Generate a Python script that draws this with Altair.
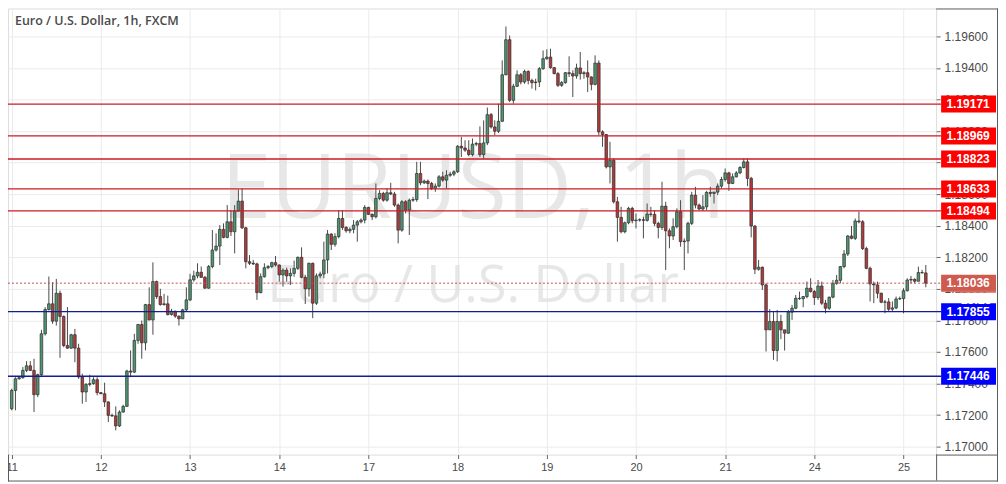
import altair as alt
import pandas as pd

first_open = 1.17240
closes = [
    1.17356, 1.17430, 1.17437, 1.17483, 1.17512, 1.17483, 1.17329, 1.17456, 1.17715, 1.17869,
    1.17905, 1.17795, 1.17972, 1.17825, 1.17641, 1.17624, 1.17709, 1.17624, 1.17441, 1.17346,
    1.17394, 1.17399, 1.17424, 1.17342, 1.17335, 1.17283, 1.17198, 1.17195, 1.17131, 1.17219,
    1.17255, 1.17479, 1.17472, 1.17673, 1.17774, 1.17658, 1.17900, 1.17803, 1.18046, 1.17951,
    1.17900, 1.17905, 1.17837, 1.17858, 1.17827, 1.17810, 1.17867, 1.17930, 1.18057,
    1.18082, 1.18105, 1.18073, 1.18004, 1.18141, 1.18246, 1.18271, 1.18377, 1.18326, 1.18425,
    1.18362, 1.18493, 1.18556, 1.18387, 1.18172, 1.18162, 1.18158, 1.17976, 1.18077, 1.18134,
    1.18141, 1.18166, 1.18151, 1.18088, 1.18119, 1.18082, 1.18098, 1.18130, 1.18200, 1.18073,
    1.18000, 1.18162, 1.17909, 1.18082, 1.18094, 1.18183, 1.18347, 1.18282, 1.18331, 1.18446,
    1.18389, 1.18368, 1.18377, 1.18404, 1.18425, 1.18436, 1.18516, 1.18472, 1.18457, 1.18573,
    1.18605,
    1.18562, 1.18609, 1.18601, 1.18531, 1.18372, 1.18552, 1.18499, 1.18562, 1.18566, 1.18731,
    1.18672, 1.18683, 1.18668, 1.18636, 1.18651, 1.18710, 1.18689, 1.18720, 1.18727, 1.18742,
    1.18904, 1.18893, 1.18879, 1.18851, 1.18917, 1.18921, 1.18851, 1.18925, 1.19104, 1.19026,
    1.18999, 1.19062, 1.19357, 1.19579, 1.19195, 1.19284, 1.19357, 1.19311, 1.19378, 1.19321,
    1.19307, 1.19311, 1.19395, 1.19459, 1.19469, 1.19402, 1.19364, 1.19290,
    1.19307, 1.19370, 1.19364, 1.19349, 1.19400, 1.19364, 1.19370, 1.19343, 1.19296, 1.19431,
    1.18995, 1.18978, 1.18773, 1.18815, 1.18552, 1.18453, 1.18362, 1.18419, 1.18510, 1.18432,
    1.18436, 1.18438, 1.18434, 1.18474, 1.18472, 1.18415, 1.18389, 1.18524, 1.18368, 1.18335,
    1.18394, 1.18489, 1.18299, 1.18303, 1.18415, 1.18594, 1.18531, 1.18506, 1.18520, 1.18611,
    1.18605, 1.18613, 1.18651, 1.18693, 1.18735, 1.18668, 1.18710, 1.18735, 1.18769, 1.18805,
    1.18700, 1.18398, 1.18124, 1.18137, 1.18025, 1.17740, 1.17793, 1.17609, 1.17793, 1.17740,
    1.17719, 1.17852, 1.17877, 1.17940, 1.17938, 1.17951, 1.18004, 1.17983, 1.17945, 1.18018,
    1.17909, 1.17877, 1.17947, 1.18035, 1.18054, 1.18141, 1.18221, 1.18335, 1.18320, 1.18430,
    1.18425, 1.18255, 1.18130, 1.18031, 1.18025, 1.17972, 1.17915, 1.17917, 1.17871, 1.17879,
    1.17936, 1.17938, 1.17988, 1.18056, 1.18060, 1.18048, 1.18103, 1.18101, 1.18036,
]
highs = [
    1.17367, 1.17440, 1.17445, 1.17504, 1.17542, 1.17542, 1.17557, 1.17462, 1.17740, 1.17884,
    1.18078, 1.18042, 1.18063, 1.17989, 1.17831, 1.17884, 1.17715, 1.17746, 1.17652, 1.17462,
    1.17403, 1.17456, 1.17440, 1.17440, 1.17346, 1.17405, 1.17287, 1.17209, 1.17255, 1.17230,
    1.17265, 1.17487, 1.17610, 1.17715, 1.17778, 1.17799, 1.17905, 1.18010, 1.18168, 1.18052,
    1.18000, 1.17968, 1.17957, 1.17873, 1.17862, 1.17831, 1.17873, 1.18010, 1.18095,
    1.18115, 1.18162, 1.18141, 1.18082, 1.18151, 1.18373, 1.18352, 1.18404, 1.18415, 1.18531,
    1.18499, 1.18531, 1.18630, 1.18636, 1.18394, 1.18214, 1.18183, 1.18166, 1.18098, 1.18162,
    1.18151, 1.18172, 1.18208, 1.18155, 1.18130, 1.18134, 1.18130, 1.18179, 1.18204, 1.18263,
    1.18088, 1.18166, 1.18166, 1.18098, 1.18109, 1.18299, 1.18373, 1.18352, 1.18352, 1.18499,
    1.18499, 1.18398, 1.18390, 1.18436, 1.18436, 1.18446, 1.18531, 1.18520, 1.18478, 1.18668,
    1.18626,
    1.18615, 1.18636, 1.18672, 1.18615, 1.18541, 1.18562, 1.18562, 1.18573, 1.18583, 1.18805,
    1.18805, 1.18693, 1.18693, 1.18678, 1.18668, 1.18721, 1.18742, 1.18752, 1.18742, 1.18752,
    1.18911, 1.18963, 1.18942, 1.18942, 1.18953, 1.18932, 1.19030, 1.19068, 1.19149, 1.19115,
    1.19068, 1.19174, 1.19448, 1.19663, 1.19606, 1.19300, 1.19385, 1.19368, 1.19389, 1.19385,
    1.19332, 1.19332, 1.19406, 1.19511, 1.19518, 1.19522, 1.19406, 1.19374,
    1.19317, 1.19374, 1.19474, 1.19385, 1.19427, 1.19501, 1.19380, 1.19448, 1.19347, 1.19480,
    1.19448, 1.19005, 1.18981, 1.18932, 1.18826, 1.18583, 1.18520, 1.18426, 1.18520, 1.18520,
    1.18478, 1.18447, 1.18457, 1.18541, 1.18520, 1.18499, 1.18426, 1.18679, 1.18552, 1.18383,
    1.18447, 1.18510, 1.18562, 1.18320, 1.18426, 1.18615, 1.18647, 1.18541, 1.18594, 1.18621,
    1.18647, 1.18615, 1.18668, 1.18710, 1.18763, 1.18742, 1.18731, 1.18746, 1.18778, 1.18826,
    1.18826, 1.18710, 1.18404, 1.18183, 1.18141, 1.18035, 1.17871, 1.17856, 1.17866, 1.17835,
    1.17740, 1.17866, 1.17898, 1.17961, 1.17982, 1.17955, 1.18046, 1.18067, 1.17993, 1.18056,
    1.18046, 1.17930, 1.17951, 1.18056, 1.18088, 1.18145, 1.18246, 1.18341, 1.18398, 1.18446,
    1.18489, 1.18436, 1.18267, 1.18141, 1.18046, 1.18046, 1.17976, 1.17930, 1.17941, 1.17920,
    1.17951, 1.17951, 1.18004, 1.18067, 1.18082, 1.18067, 1.18141, 1.18120, 1.18151,
]
lows = [
    1.17230, 1.17230, 1.17424, 1.17430, 1.17472, 1.17479, 1.17219, 1.17314, 1.17440, 1.17704,
    1.17862, 1.17778, 1.17767, 1.17563, 1.17630, 1.17620, 1.17620, 1.17535, 1.17430, 1.17272,
    1.17283, 1.17382, 1.17392, 1.17325, 1.17333, 1.17251, 1.17156, 1.17188, 1.17103, 1.17124,
    1.17215, 1.17251, 1.17440, 1.17466, 1.17652, 1.17557, 1.17610, 1.17799, 1.17709, 1.17936,
    1.17894, 1.17894, 1.17831, 1.17831, 1.17816, 1.17767, 1.17810, 1.17858, 1.17922,
    1.18046, 1.18067, 1.18069, 1.18001, 1.18001, 1.18130, 1.18236, 1.18151, 1.18320, 1.18320,
    1.18335, 1.18225, 1.18489, 1.18379, 1.18130, 1.18151, 1.18151, 1.17930, 1.17972, 1.18071,
    1.18124, 1.18130, 1.18141, 1.18046, 1.18014, 1.18046, 1.18025, 1.18077, 1.18119, 1.18067,
    1.17904, 1.17951, 1.17814, 1.17898, 1.18067, 1.18067, 1.18098, 1.18246, 1.18267, 1.18320,
    1.18373, 1.18356, 1.18352, 1.18352, 1.18299, 1.18415, 1.18415, 1.18468, 1.18436, 1.18446,
    1.18562,
    1.18552, 1.18552, 1.18594, 1.18520, 1.18288, 1.18362, 1.18478, 1.18341, 1.18552, 1.18552,
    1.18657, 1.18664, 1.18569, 1.18626, 1.18615, 1.18643, 1.18678, 1.18636, 1.18710, 1.18714,
    1.18735, 1.18836, 1.18868, 1.18840, 1.18840, 1.18904, 1.18836, 1.18826, 1.18911, 1.19016,
    1.18974, 1.18988, 1.19058, 1.19353, 1.19184, 1.19174, 1.19279, 1.19296, 1.19300, 1.19296,
    1.19269, 1.19258, 1.19279, 1.19389, 1.19452, 1.19395, 1.19360, 1.19279,
    1.19280, 1.19300, 1.19343, 1.19216, 1.19332, 1.19326, 1.19332, 1.19248, 1.19258, 1.19290,
    1.18974, 1.18900, 1.18763, 1.18668, 1.18541, 1.18299, 1.18352, 1.18352, 1.18409, 1.18415,
    1.18383, 1.18426, 1.18320, 1.18426, 1.18457, 1.18398, 1.18320, 1.18373, 1.18119, 1.18257,
    1.18309, 1.18383, 1.18267, 1.18119, 1.18225, 1.18404, 1.18510, 1.18499, 1.18495, 1.18499,
    1.18584, 1.18541, 1.18594, 1.18636, 1.18679, 1.18621, 1.18664, 1.18706, 1.18727, 1.18763,
    1.18651, 1.18326, 1.18094, 1.18115, 1.17993, 1.17603, 1.17740, 1.17550, 1.17540, 1.17681,
    1.17609, 1.17715, 1.17803, 1.17871, 1.17930, 1.17883, 1.17940, 1.17976, 1.17898, 1.17930,
    1.17898, 1.17845, 1.17866, 1.17940, 1.18025, 1.18035, 1.18130, 1.18208, 1.18314, 1.18309,
    1.18415, 1.18246, 1.18124, 1.17920, 1.17909, 1.17940, 1.17909, 1.17845, 1.17856, 1.17856,
    1.17871, 1.17930, 1.17845, 1.17983, 1.18035, 1.18035, 1.18052, 1.18098, 1.18010,
]

day_labels = ["11", "12", "13", "14", "17", "18", "19", "20", "21", "24", "25"]
hours_per_day = 24
price_ticks = [1.170, 1.172, 1.174, 1.176, 1.178, 1.180, 1.182, 1.184, 1.186, 1.188,
               1.190, 1.192, 1.194, 1.196]

red_levels = [1.19171, 1.18969, 1.18823, 1.18633, 1.18494]
blue_levels = [1.17855, 1.17446]
last_price = 1.18036
countdown = "13:25"
title_text = "Euro / U.S. Dollar, 1h, FXCM"
watermark_1 = "EURUSD, 1h"
watermark_2 = "Euro / U.S. Dollar"

opens = [first_open] + closes[:-1]
df = pd.DataFrame({
    "i": list(range(len(closes))),
    "open": opens,
    "close": closes,
    "high": [max(h, o, c) for h, o, c in zip(highs, opens, closes)],
    "low": [min(l, o, c) for l, o, c in zip(lows, opens, closes)],
})
df["dir"] = ["up" if c >= o else "down" for o, c in zip(opens, closes)]

tick_idx = [k * hours_per_day for k in range(len(day_labels))]
label_js = "[" + ",".join("'%s'" % d for d in day_labels) + "]"

W, H = 930, 447
xscale = alt.Scale(domain=[0.345, 247.43], nice=False, zero=False)
yscale = alt.Scale(domain=[1.169494, 1.197771], nice=False, zero=False)
xaxis = alt.Axis(values=tick_idx, labelExpr=label_js + "[round(datum.value/24)]",
                 grid=True, gridColor="#ebebeb", domain=False, tickColor="#666",
                 tickSize=4, labelPadding=3, labelFontSize=11, labelColor="#4a4a4a",
                 labelFont="Liberation Sans", labelFlush=False, labelOverlap=False,
                 title=None)
yaxis = alt.Axis(orient="right", values=price_ticks, format=".5f", grid=True,
                 gridColor="#ebebeb", domain=False, tickColor="#666", tickSize=4,
                 labelPadding=4, labelFontSize=12, labelColor="#4a4a4a",
                 labelFont="Liberation Sans", labelOverlap=False, title=None)


def X(f):
    return alt.X(f, scale=xscale, axis=xaxis, title=None)


def Y(f):
    return alt.Y(f, scale=yscale, axis=yaxis, title=None)


wm = pd.DataFrame({"t": [watermark_1, watermark_2], "y": [210, 294], "s": [90, 52]})
watermark = alt.Chart(wm).mark_text(font="Open Sans", color="#e2e2e2", align="center",
                                    baseline="alphabetic", opacity=0.8).encode(
    text="t:N", x=alt.value(466), y=alt.Y("y:Q", scale=None),
    size=alt.Size("s:Q", scale=None, legend=None))

wicks = alt.Chart(df).mark_rule(color="#4a4a4a", strokeWidth=1).encode(
    x=X("i:Q"), y=Y("low:Q"), y2="high:Q")
bodies = alt.Chart(df).mark_bar(size=2.6, stroke="#2d2d2d", strokeWidth=0.7).encode(
    x=X("i:Q"), y=Y("open:Q"), y2="close:Q",
    fill=alt.Fill("dir:N", scale=alt.Scale(domain=["up", "down"],
                                           range=["#4f9670", "#b13b3b"]), legend=None))

lv = pd.DataFrame({
    "price": red_levels + blue_levels,
    "kind": ["r"] * len(red_levels) + ["b"] * len(blue_levels),
})
lv["label"] = ["%.5f" % p for p in lv["price"]]
line_color = {"r": "#cc1a24", "b": "#12208f"}
box_color = {"r": "#ff0000", "b": "#0000ff"}
half = 0.00054

level_layers = []
for k in ["r", "b"]:
    sub = lv[lv["kind"] == k]
    level_layers.append(alt.Chart(sub).mark_rule(strokeWidth=1.3, color=line_color[k]).encode(
        y=Y("price:Q"), x=alt.value(0), x2=alt.value(935)))
for k in ["r", "b"]:
    sub = lv[lv["kind"] == k]
    level_layers.append(alt.Chart(sub).transform_calculate(
        top="datum.price + %f" % half, bot="datum.price - %f" % half
    ).mark_rect(color=box_color[k]).encode(
        y=Y("top:Q"), y2="bot:Q", x=alt.value(935), x2=alt.value(990)))
box_text = alt.Chart(lv).mark_text(color="white", fontWeight="bold", fontSize=12,
                                   font="Liberation Sans", align="center",
                                   baseline="middle").encode(
    y=Y("price:Q"), x=alt.value(962), text="label:N")

cur = pd.DataFrame({"price": [last_price], "label": ["%.5f" % last_price],
                    "cd": [countdown]})
cur_line = alt.Chart(cur).mark_rule(color="#c0504d", strokeWidth=1,
                                    strokeDash=[2, 2]).encode(
    y=Y("price:Q"), x=alt.value(0), x2=alt.value(935))
cur_box = alt.Chart(cur).transform_calculate(
    top="datum.price + %f" % half, bot="datum.price - %f" % half
).mark_rect(color="#cf5a4e").encode(
    y=Y("top:Q"), y2="bot:Q", x=alt.value(935), x2=alt.value(990))
cur_text = alt.Chart(cur).mark_text(color="white", fontWeight="bold", fontSize=12,
                                    font="Liberation Sans", align="center",
                                    baseline="middle").encode(
    y=Y("price:Q"), x=alt.value(962), text="label:N")
cd_box = alt.Chart(cur).transform_calculate(
    top="datum.price + 0.00047", bot="datum.price - 0.00047"
).mark_rect(color="#d66b5f", yOffset=17).encode(
    y=Y("top:Q"), y2="bot:Q", x=alt.value(950), x2=alt.value(990))
cd_text = alt.Chart(cur).mark_text(color="white", fontWeight="bold", fontSize=12,
                                   font="Liberation Sans", align="center",
                                   baseline="middle", yOffset=17).encode(
    y=Y("price:Q"), x=alt.value(970), text="cd:N")

title = alt.Chart(pd.DataFrame({"t": [title_text]})).mark_text(
    font="Open Sans", fontWeight=600, fontSize=12.5, color="#4a4a4a",
    align="left", baseline="middle").encode(
    text="t:N", x=alt.value(7), y=alt.value(13))

frame_color = "#5a5a5a"
fr = pd.DataFrame({"k": ["a"]})
frame = alt.layer(
    alt.Chart(fr).mark_rule(color=frame_color).encode(
        x=alt.value(930), x2=alt.value(992), y=alt.value(447.5)),
    alt.Chart(fr).mark_rule(color=frame_color).encode(
        x=alt.value(930.5), y=alt.value(447), y2=alt.value(473)),
    alt.Chart(fr).mark_rule(color=frame_color).encode(
        x=alt.value(991.5), y=alt.value(0), y2=alt.value(474)),
    alt.Chart(fr).mark_rule(color=frame_color).encode(
        x=alt.value(0), x2=alt.value(992), y=alt.value(473.5)),
    alt.Chart(fr).mark_rule(color=frame_color).encode(
        x=alt.value(0.5), y=alt.value(447), y2=alt.value(474)),
    alt.Chart(fr).mark_rule(color=frame_color).encode(
        x=alt.value(930), x2=alt.value(992), y=alt.value(0.5)),
)

chart = alt.layer(
    watermark, wicks, bodies, cur_line, *level_layers, box_text,
    cur_box, cur_text, cd_box, cd_text, title, frame
).properties(
    width=W, height=H,
    autosize=alt.AutoSizeParams(type="none"),
    padding={"left": 0, "top": 0, "right": 62, "bottom": 29},
).configure_view(stroke=frame_color, strokeWidth=1).configure(background="white")

chart.save("out.html", embed_options={"renderer": "svg", "actions": False})
